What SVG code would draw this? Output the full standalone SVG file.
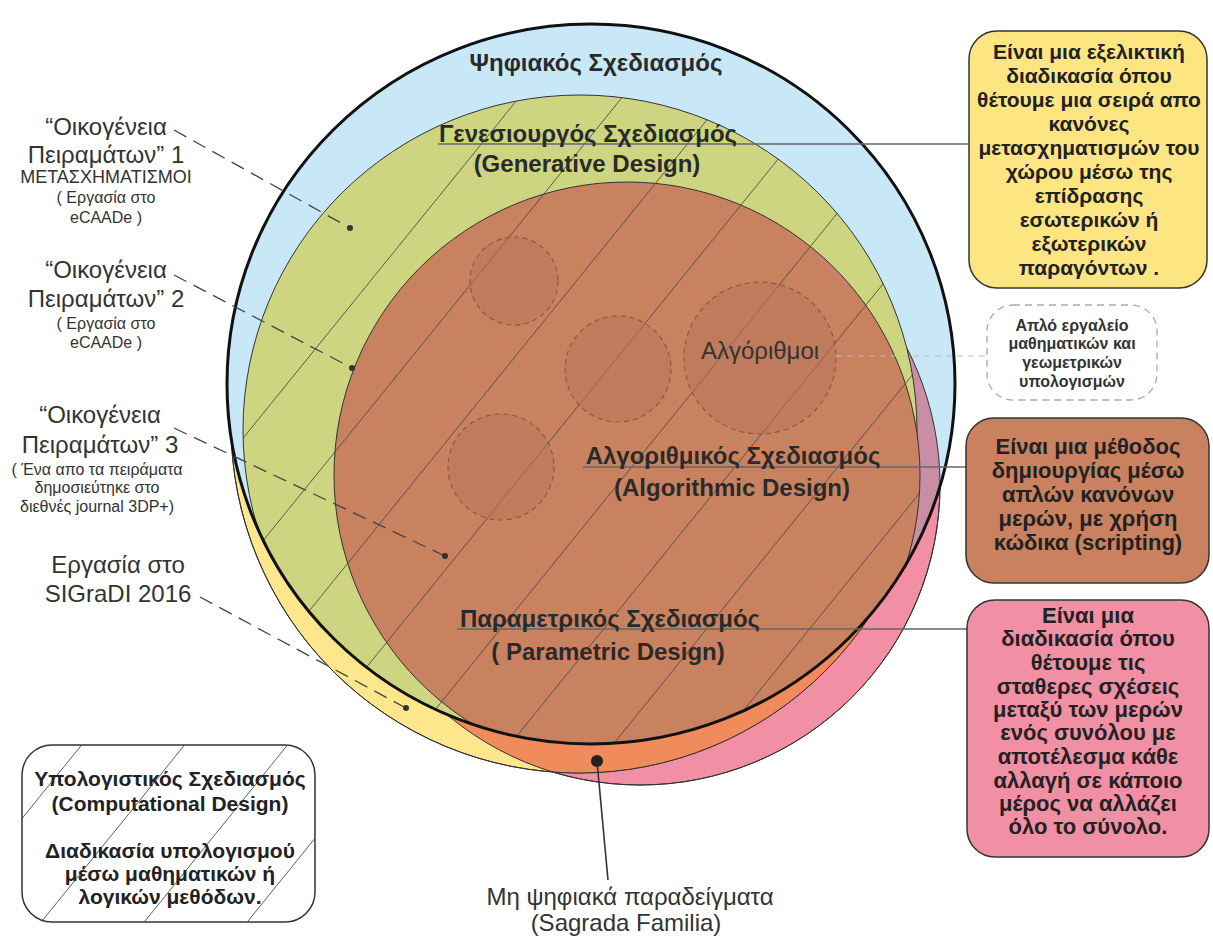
<svg xmlns="http://www.w3.org/2000/svg" width="1213" height="939" viewBox="0 0 1213 939">
<style>
.t{font-family:"Liberation Sans",Arial,sans-serif;text-anchor:middle;fill:#333}
.big{font-size:24px}
.sub{font-size:16px}
.hd{font-size:24px;font-weight:bold;fill:#2a2a2a}
.bx{font-weight:bold;fill:#222}
.y{font-size:21px}
.b{font-size:22px}
.p{font-size:22px}
.c{font-size:21px}
.sm{font-size:16px;font-weight:bold;fill:#333}
.hatch{stroke:#4d4d4d;stroke-width:0.9;fill:none}
.lead{stroke:#444;stroke-width:1.3;stroke-dasharray:14 8;fill:none}
.conn{stroke:#666;stroke-width:1.3;fill:none}
.thin{stroke:#333;stroke-width:1}
.sc{fill:#b8765a;fill-opacity:0.55;stroke:#7d5a48;stroke-width:1.1;stroke-dasharray:5 4}
.box{stroke:#333;stroke-width:1.5}
</style>
<defs>
<clipPath id="clipBlue"><ellipse cx="591" cy="384" rx="364" ry="360"/></clipPath>
<clipPath id="clipYellow"><circle cx="579" cy="425" r="348"/></clipPath>
<clipPath id="clipHatch"><ellipse cx="580" cy="430" rx="337" ry="335"/><circle cx="627" cy="475" r="293"/></clipPath>
<clipPath id="clipComp"><rect x="22" y="745" width="293" height="177" rx="30"/></clipPath>
</defs>

<g id="venn">
<circle cx="640" cy="485" r="300" fill="#f28fa4" class="thin"/>
<circle cx="579" cy="425" r="348" fill="#fde68b" class="thin"/>
<circle cx="640" cy="485" r="300" fill="#f08b5c" clip-path="url(#clipYellow)"/>
<circle cx="640" cy="485" r="300" fill="none" class="thin"/>
<circle cx="579" cy="425" r="348" fill="none" class="thin"/>
<ellipse cx="591" cy="384" rx="364" ry="360" fill="#c8e8f8"/>
<g clip-path="url(#clipBlue)">
<circle cx="640" cy="485" r="300" fill="#c98ea5" class="thin"/>
<ellipse cx="580" cy="430" rx="337" ry="335" fill="#cdd581" class="thin"/>
<circle cx="627" cy="475" r="293" fill="#c9825f" class="thin"/>
<g clip-path="url(#clipHatch)">
<path class="hatch" d="M446.4,60L-136.8,780M549.4,60L-33.8,780M652.4,60L69.2,780M755.4,60L172.2,780M858.4,60L275.2,780M961.4,60L378.2,780M1064.4,60L481.2,780M1167.4,60L584.2,780M1270.4,60L687.2,780M1373.4,60L790.2,780"/>
</g>
</g>
<ellipse cx="591" cy="384" rx="364" ry="360" fill="none" stroke="#111" stroke-width="3"/>
</g>

<g id="algorithms">
<circle class="sc" cx="514" cy="281" r="44"/>
<circle class="sc" cx="618" cy="369" r="53"/>
<circle class="sc" cx="760" cy="358" r="76"/>
<circle class="sc" cx="501" cy="467" r="53"/>
<text class="t" x="760" y="359" style="font-size:24px">Αλγόριθμοι</text>
</g>

<g id="connectors">
<line class="conn" x1="438" y1="144" x2="969" y2="144"/>
<line class="conn" x1="583" y1="467" x2="966" y2="467"/>
<line class="conn" x1="457" y1="629" x2="967" y2="629"/>
<line x1="836" y1="356" x2="987" y2="356" stroke="#bbb" stroke-width="1.2" stroke-dasharray="6 5"/>
<path class="lead" d="M174,130L350,228"/>
<path class="lead" d="M174,275L352,368"/>
<path class="lead" d="M174,428L445,556"/>
<path class="lead" d="M200,597L406,708"/>
<circle cx="350" cy="228" r="3" fill="#333"/>
<circle cx="352" cy="368" r="3" fill="#333"/>
<circle cx="445" cy="556" r="3" fill="#333"/>
<circle cx="406" cy="708" r="3" fill="#333"/>
<line x1="597" y1="761" x2="608" y2="880" stroke="#333" stroke-width="1.6"/>
<circle cx="597" cy="761" r="6" fill="#222"/>
</g>

<g id="digital-label"><text class="t hd" x="596" y="71">Ψηφιακός Σχεδιασμός</text></g>
<g id="generative-label">
<text class="t hd" x="588" y="142">Γενεσιουργός Σχεδιασμός</text>
<text class="t hd" x="587" y="172">(Generative Design)</text>
</g>
<g id="algorithmic-label">
<text class="t hd" x="733" y="464">Αλγοριθμικός Σχεδιασμός</text>
<text class="t hd" x="732" y="496">(Algorithmic Design)</text>
</g>
<g id="parametric-label">
<text class="t hd" x="610" y="627">Παραμετρικός Σχεδιασμός</text>
<text class="t hd" x="608" y="660">( Parametric Design)</text>
</g>

<g id="family1">
<text class="t big" x="106" y="135">“Οικογένεια</text>
<text class="t big" x="106" y="163">Πειραμάτων” 1</text>
<text class="t sub" x="106" y="183" style="font-size:18px">ΜΕΤΑΣΧΗΜΑΤΙΣΜΟΙ</text>
<text class="t sub" x="106" y="203">( Εργασία στο</text>
<text class="t sub" x="106" y="223">eCAADe )</text>
</g>
<g id="family2">
<text class="t big" x="106" y="278">“Οικογένεια</text>
<text class="t big" x="106" y="307">Πειραμάτων” 2</text>
<text class="t sub" x="106" y="329">( Εργασία στο</text>
<text class="t sub" x="106" y="348">eCAADe )</text>
</g>
<g id="family3">
<text class="t big" x="100" y="423">“Οικογένεια</text>
<text class="t big" x="100" y="453">Πειραμάτων” 3</text>
<text class="t sub" x="97" y="475">( Ένα απο τα πειράματα</text>
<text class="t sub" x="97" y="493">δημοσιεύτηκε στο</text>
<text class="t sub" x="97" y="512">διεθνές journal 3DP+)</text>
</g>
<g id="sigradi">
<text class="t big" x="118" y="573">Εργασία στο</text>
<text class="t big" x="118" y="602">SIGraDI 2016</text>
</g>

<g id="sagrada">
<text class="t big" x="630" y="905">Μη ψηφιακά παραδείγματα</text>
<text class="t big" x="626" y="931">(Sagrada Familia)</text>
</g>

<g id="computational-box">
<rect class="box" x="22" y="745" width="293" height="177" rx="30" fill="#fff"/>
<g clip-path="url(#clipComp)">
<path class="hatch" d="M85.6,740L-64.3,925M188.6,740L38.8,925M291.6,740L141.8,925M394.6,740L244.8,925"/>
</g>
<text class="t bx c" x="170" y="786">Υπολογιστικός Σχεδιασμός</text>
<text class="t bx c" x="170" y="811">(Computational Design)</text>
<text class="t bx c" x="170" y="858">Διαδικασία υπολογισμού</text>
<text class="t bx c" x="170" y="881">μέσω μαθηματικών ή</text>
<text class="t bx c" x="170" y="904">λογικών μεθόδων.</text>
</g>

<g id="generative-box">
<rect class="box" x="969" y="31" width="238" height="257" rx="28" fill="#fde582"/>
<text class="t bx y" x="1089" y="59">Είναι μια εξελικτική</text>
<text class="t bx y" x="1089" y="83">διαδικασία όπου</text>
<text class="t bx y" x="1089" y="107">θέτουμε μια σειρά απο</text>
<text class="t bx y" x="1089" y="131">κανόνες</text>
<text class="t bx y" x="1089" y="155">μετασχηματισμών του</text>
<text class="t bx y" x="1089" y="179">χώρου μέσω της</text>
<text class="t bx y" x="1089" y="203">επίδρασης</text>
<text class="t bx y" x="1089" y="227">εσωτερικών ή</text>
<text class="t bx y" x="1089" y="251">εξωτερικών</text>
<text class="t bx y" x="1089" y="275">παραγόντων .</text>
</g>

<g id="tool-box">
<rect x="987" y="305" width="170" height="95" rx="26" fill="#fff" stroke="#aaa" stroke-width="1.3" stroke-dasharray="7 5"/>
<text class="t sm" x="1072" y="331">Απλό εργαλείο</text>
<text class="t sm" x="1072" y="349">μαθηματικών και</text>
<text class="t sm" x="1072" y="368">γεωμετρικών</text>
<text class="t sm" x="1072" y="387">υπολογισμών</text>
</g>

<g id="algorithmic-box">
<rect class="box" x="966" y="418" width="243" height="165" rx="28" fill="#c9815f"/>
<text class="t bx b" x="1088" y="454">Είναι μια μέθοδος</text>
<text class="t bx b" x="1088" y="478">δημιουργίας μέσω</text>
<text class="t bx b" x="1088" y="502">απλών κανόνων</text>
<text class="t bx b" x="1088" y="526">μερών, με χρήση</text>
<text class="t bx b" x="1088" y="550">κώδικα (scripting)</text>
</g>

<g id="parametric-box">
<rect class="box" x="967" y="600" width="242" height="257" rx="28" fill="#f18fa4"/>
<text class="t bx p" x="1088" y="623">Είναι μια</text>
<text class="t bx p" x="1088" y="646">διαδικασία όπου</text>
<text class="t bx p" x="1088" y="670">θέτουμε τις</text>
<text class="t bx p" x="1088" y="694">σταθερες σχέσεις</text>
<text class="t bx p" x="1088" y="717">μεταξύ των μερών</text>
<text class="t bx p" x="1088" y="740">ενός συνόλου με</text>
<text class="t bx p" x="1088" y="764">αποτέλεσμα κάθε</text>
<text class="t bx p" x="1088" y="788">αλλαγή σε κάποιο</text>
<text class="t bx p" x="1088" y="811">μέρος να αλλάζει</text>
<text class="t bx p" x="1088" y="834">όλο το σύνολο.</text>
</g>
</svg>
